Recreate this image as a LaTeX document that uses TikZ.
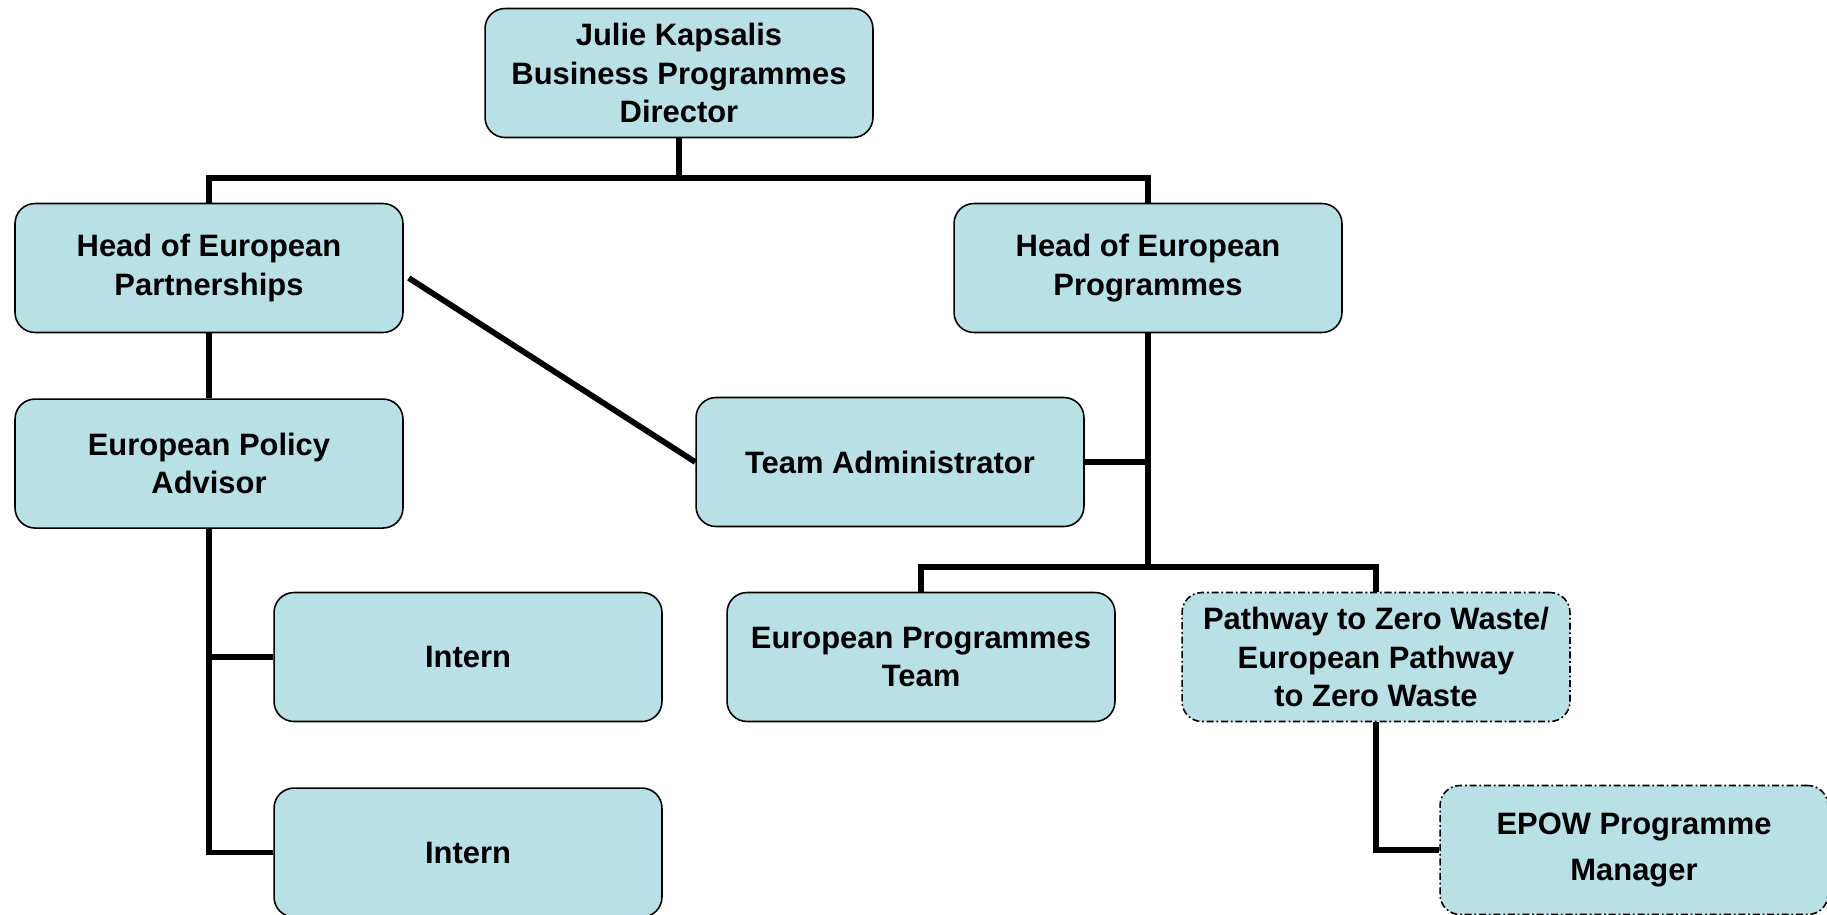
\documentclass[tikz,border=0pt]{standalone}
\usepackage{fontspec}
\setmainfont{Liberation Sans}
\usetikzlibrary{positioning}
\definecolor{postfill}{RGB}{185,224,228}
\tikzset{post/.style={rectangle,rounded corners=0.4cm,fill=postfill,draw=black,line width=0.9pt,minimum width=7.76cm,minimum height=2.58cm,align=center,font=\fontsize{17.6}{21.9}\selectfont\bfseries}}
\tikzset{dpost/.style={post,dash pattern=on 4pt off 1.6pt on 1pt off 1.6pt}}
\tikzset{link/.style={line width=3.3pt}}

\begin{document}
\begin{tikzpicture}[x=0.02cm, y=-0.02cm, node distance=1.3cm]
    \useasboundingbox (0,0) rectangle (1827,914);
    \node[post] (dir) at (679,73) {Julie Kapsalis\\Business Programmes\\Director};
    \node[post] (hpart) at (209,268) {Head of European\\Partnerships};
    \node[post] (hprog) at (1148,268) {Head of European\\Programmes};
    \node[post, below=of hpart] (epa) {European Policy\\Advisor};
    \node[post] (tadm) at (890,462) {Team Administrator};
    \node[post] (int1) at (468,657) {Intern};
    \node[post, below=of int1] (int2) {Intern};
    \node[post] (ept) at (921,657) {European Programmes\\Team};
    \node[dpost] (pzw) at (1376,657) {Pathway to Zero Waste/\\European Pathway\\to Zero Waste};
    \node[dpost, font=\fontsize{17.6}{26.5}\selectfont\bfseries] (epow) at (1634,850) {EPOW Programme\\Manager};
    \coordinate (topbus) at (679,178);
    \coordinate (midbus) at (1148,567);
    %\node[post] (spare) at (1634,462) {};
    \draw[link] (dir) -- (topbus);
    \draw[link] (hpart) |- (topbus) -| (hprog);
    \draw[link] (hpart) -- (epa);
    \draw[link] ([xshift=0.1cm, yshift=-0.2cm]hpart.east) -- (tadm.west);
    \draw[link] (epa) |- (int1);
    \draw[link] (epa) |- (int2);
    \draw[link] (hprog) -- (midbus);
    \draw[link] (tadm) -- (tadm -| midbus);
    \draw[link] (ept) |- (midbus) -| (pzw);
    \draw[link] (pzw) |- (epow);
\end{tikzpicture}
\end{document}
